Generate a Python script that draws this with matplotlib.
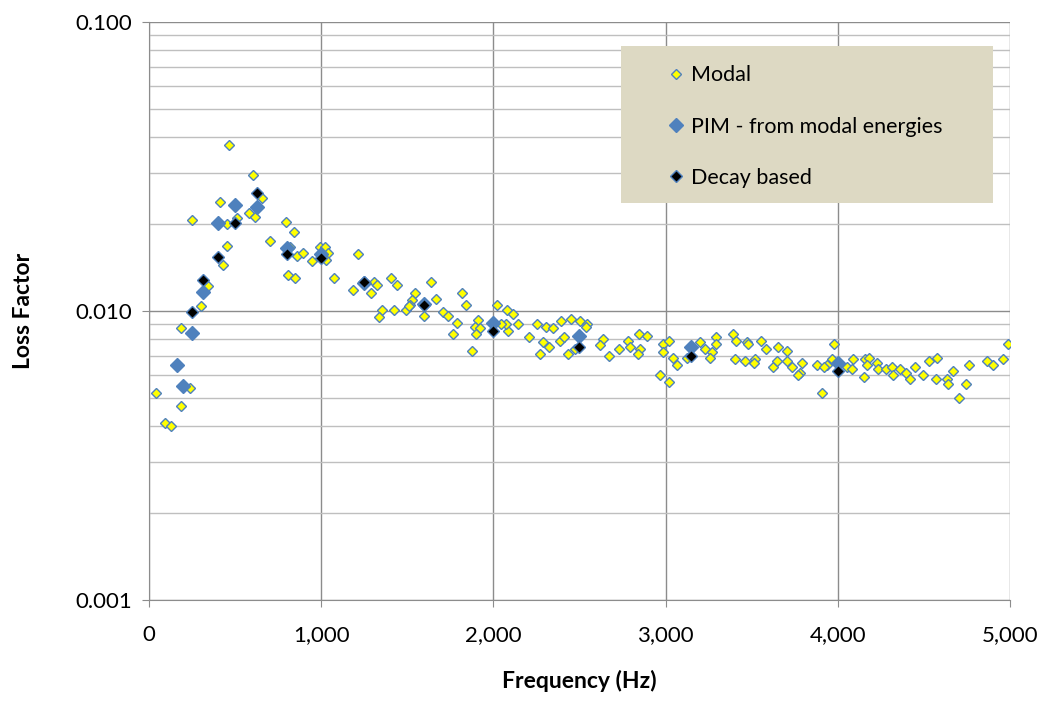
import numpy as np
import matplotlib
matplotlib.use("Agg")
import matplotlib.pyplot as plt
from matplotlib.patches import Rectangle
from matplotlib.ticker import FixedLocator, FuncFormatter

plt.rcParams["font.family"] = ["Lato", "DejaVu Sans"]

# modal loss factors
modal_freq = np.array([
    41, 93, 128, 186, 186, 238, 250, 302, 343, 412, 430, 453, 453, 465, 511,
    581, 604, 616, 656, 703, 796, 819, 842, 859, 894, 807, 848, 947, 993, 1022,
    1039, 1028, 1074, 1214, 1185, 1307, 1324, 1289, 1405, 1440, 1353, 1336,
    1423, 1545, 1527, 1516, 1492, 1510, 1638, 1667, 1597, 1818, 1841, 1707,
    1736, 1789, 1765, 1910, 1893, 1922, 1899, 1876, 2021, 2079, 2114, 2143,
    2085, 2073, 2044, 2253, 2305, 2346, 2392, 2451, 2503, 2543, 2537, 2207,
    2288, 2323, 2271, 2387, 2410, 2433, 2474, 2636, 2619, 2671, 2729, 2782,
    2793, 2851, 2840, 2846, 2892, 2985, 3020, 2985, 3043, 3067, 2967, 3020,
    3125, 3200, 3229, 3269, 3258, 3293, 3293, 3391, 3409, 3473, 3403, 3461,
    3479, 3554, 3583, 3653, 3705, 3519, 3515, 3624, 3647, 3705, 3734, 3792,
    3780, 3769, 3908, 3879, 3937, 3920, 3978, 3966, 4053, 4088, 4082, 4152,
    4158, 4181, 4170, 4228, 4233, 4280, 4315, 4320, 4361, 4396, 4419, 4448,
    4495, 4530, 4576, 4570, 4634, 4640, 4669, 4744, 4762, 4704, 4866, 4901,
    4959, 4988,
])
modal_lf = np.array([
    0.0052, 0.0041, 0.0040, 0.0087, 0.0047, 0.0054, 0.0207, 0.0104, 0.0122,
    0.0238, 0.0144, 0.0168, 0.0200, 0.0375, 0.0210, 0.0218, 0.0296, 0.0211,
    0.0246, 0.0175, 0.0203, 0.0166, 0.0188, 0.0155, 0.0159, 0.0133, 0.0130,
    0.0149, 0.0166, 0.0166, 0.0159, 0.0150, 0.0130, 0.0157, 0.0118, 0.0126,
    0.0123, 0.0115, 0.0130, 0.0123, 0.0101, 0.0095, 0.0101, 0.0115, 0.0109,
    0.0105, 0.0101, 0.0104, 0.0126, 0.0110, 0.0096, 0.0115, 0.0105, 0.0099,
    0.0096, 0.0091, 0.0083, 0.0093, 0.0088, 0.0087, 0.0083, 0.0073, 0.0105,
    0.0101, 0.0098, 0.0090, 0.0085, 0.0090, 0.0090, 0.0090, 0.0088, 0.0087,
    0.0092, 0.0094, 0.0092, 0.0090, 0.0088, 0.0081, 0.0078, 0.0075, 0.0071,
    0.0079, 0.0081, 0.0071, 0.0074, 0.0080, 0.0076, 0.0070, 0.0074, 0.0079,
    0.0075, 0.0074, 0.0071, 0.0083, 0.0082, 0.0077, 0.0079, 0.0072, 0.0069,
    0.0065, 0.0060, 0.0057, 0.0069, 0.0078, 0.0074, 0.0072, 0.0069, 0.0081,
    0.0077, 0.0083, 0.0079, 0.0078, 0.0068, 0.0067, 0.0077, 0.0079, 0.0074,
    0.0075, 0.0073, 0.0068, 0.0066, 0.0064, 0.0067, 0.0067, 0.0064, 0.0066,
    0.0061, 0.0060, 0.0052, 0.0065, 0.0065, 0.0064, 0.0077, 0.0068, 0.0064,
    0.0068, 0.0063, 0.0059, 0.0068, 0.0069, 0.0065, 0.0066, 0.0063, 0.0063,
    0.0064, 0.0060, 0.0063, 0.0061, 0.0058, 0.0064, 0.0060, 0.0067, 0.0069,
    0.0058, 0.0058, 0.0056, 0.0062, 0.0056, 0.0065, 0.0050, 0.0067, 0.0065,
    0.0068, 0.0077,
])

# third-octave bands
pim_freq = np.array([160, 200, 250, 315, 400, 500, 630, 800, 1000, 1250, 1600, 2000, 2500, 3150, 4000])
pim_lf = np.array([0.0065, 0.0055, 0.0084, 0.0116, 0.0201, 0.0233, 0.0229, 0.0165,
                   0.0157, 0.0125, 0.0106, 0.0091, 0.0082, 0.0075, 0.0066])

decay_freq = np.array([250, 315, 400, 500, 630, 800, 1000, 1250, 1600, 2000, 2500, 3150, 4000])
decay_lf = np.array([0.0099, 0.0128, 0.0154, 0.0201, 0.0256, 0.0157, 0.0153, 0.0126,
                     0.0105, 0.0085, 0.0075, 0.0070, 0.0062])

blue = "#4F81BD"

fig = plt.figure(figsize=(10.46, 7.07), dpi=100)
ax = fig.add_axes([0.1424, 0.1513, 0.8232, 0.8176])

ax.plot(modal_freq, modal_lf, ls="none", marker="D", ms=5.0, mfc="#FFFF00",
        mec=blue, mew=1.0, label="Modal", zorder=3)
ax.plot(pim_freq, pim_lf, ls="none", marker="D", ms=7.6, mfc=blue,
        mec=blue, mew=1.0, label="PIM - from modal energies", zorder=4)
ax.plot(decay_freq, decay_lf, ls="none", marker="D", ms=6.4, mfc="black",
        mec=blue, mew=1.0, label="Decay based", zorder=5)

ax.set_yscale("log")
ax.set_xlim(0, 5000)
ax.set_ylim(0.001, 0.1)

ax.xaxis.set_major_locator(FixedLocator([0, 1000, 2000, 3000, 4000, 5000]))
ax.xaxis.set_major_formatter(FuncFormatter(lambda v, p: f"{int(v):,}"))
ax.yaxis.set_major_locator(FixedLocator([0.001, 0.01, 0.1]))
ax.yaxis.set_major_formatter(FuncFormatter(lambda v, p: f"{v:.3f}"))
minors = [m * 10.0 ** e for e in (-3, -2) for m in range(2, 10)]
ax.yaxis.set_minor_locator(FixedLocator(minors))
ax.yaxis.set_minor_formatter(FuncFormatter(lambda v, p: ""))

ax.grid(True, which="major", axis="x", color="#8C8C8C", lw=1.0, zorder=0)
ax.grid(True, which="major", axis="y", color="#8C8C8C", lw=1.0, zorder=0)
ax.grid(True, which="minor", axis="y", color="#BFBFBF", lw=1.0, zorder=0)
ax.set_axisbelow(True)

for s in ("top", "right"):
    ax.spines[s].set_visible(False)
ax.spines["left"].set_color("#8C8C8C")
ax.spines["bottom"].set_color("#8C8C8C")

ax.tick_params(axis="both", which="major", direction="out", length=5,
               color="#8C8C8C", labelsize=16, labelcolor="black")
ax.tick_params(axis="x", pad=13)
ax.tick_params(axis="y", pad=7)
ax.tick_params(axis="y", which="minor", length=0)

ax.set_xlabel("Frequency (Hz)", fontsize=16.5, fontweight="bold", labelpad=18)
ax.set_ylabel("Loss Factor", fontsize=16.5, fontweight="bold", labelpad=30)

# legend box
ax.add_patch(Rectangle((0.548, 0.687), 0.432, 0.271, transform=ax.transAxes,
                       facecolor="#DDD9C3", edgecolor="none", zorder=6))
leg = ax.legend(loc="upper left", bbox_to_anchor=(0.600, 0.925), frameon=False,
                fontsize=15.5, numpoints=1, handlelength=1.0, handletextpad=0.2,
                labelspacing=1.45, borderpad=0, borderaxespad=0)
leg.set_zorder(7)

fig.savefig("out.png", dpi=100)
